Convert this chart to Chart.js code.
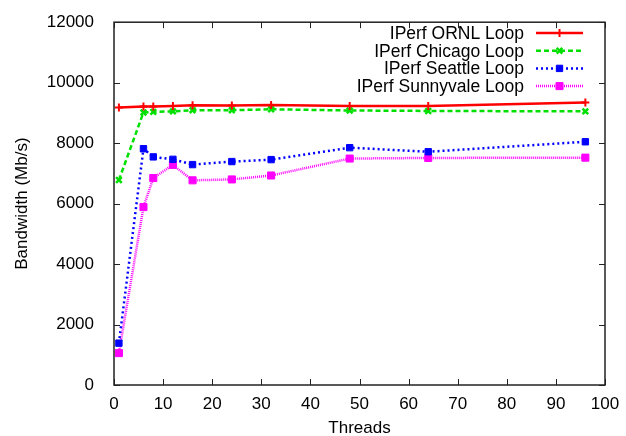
<!DOCTYPE html>
<html>
<head>
<meta charset="utf-8">
<script src="https://cdn.jsdelivr.net/npm/chart.js@4"></script>
<style>
  html, body { margin: 0; padding: 0; background: #fff; }
  canvas { display: block; }
</style>
</head>
<body>
<canvas id="bwChart" width="626" height="436"></canvas>
<script>
// ---------- Data ----------
const threads = [1, 6, 8, 12, 16, 24, 32, 48, 64, 96];
const ornl = [9180, 9210, 9210, 9230, 9250, 9245, 9260, 9230, 9230, 9340];
const chicago = [6780, 9015, 9035, 9050, 9090, 9090, 9120, 9080, 9065, 9050];
const seattle = [1385, 7815, 7545, 7465, 7290, 7390, 7455, 7850, 7715, 8045];
const sunnyvale = [1055, 5885, 6845, 7280, 6770, 6800, 6930, 7490, 7510, 7520];

const seriesNames = ["IPerf ORNL Loop", "IPerf Chicago Loop", "IPerf Seattle Loop", "IPerf Sunnyvale Loop"];
const xTicks = [0, 10, 20, 30, 40, 50, 60, 70, 80, 90, 100];
const yTicks = [0, 2000, 4000, 6000, 8000, 10000, 12000];

const FONT = "Liberation Sans, Arial, sans-serif";

function pts(ys) {
  return threads.map((t, i) => ({ x: t, y: ys[i] }));
}

// gnuplot-like frame with inward ticks on all four sides
const framePlugin = {
  id: "frame",
  afterDraw(chart) {
    const { ctx, chartArea: a, scales } = chart;
    ctx.save();
    ctx.strokeStyle = "#222";
    ctx.lineWidth = 1.5;
    ctx.strokeRect(a.left, a.top, a.right - a.left, a.bottom - a.top);
    ctx.lineWidth = 1;
    const len = 6;
    ctx.beginPath();
    xTicks.forEach(v => {
      const px = Math.round(scales.x.getPixelForValue(v)) + 0.5;
      ctx.moveTo(px, a.bottom); ctx.lineTo(px, a.bottom - len);
      ctx.moveTo(px, a.top); ctx.lineTo(px, a.top + len);
    });
    yTicks.forEach(v => {
      const py = Math.round(scales.y.getPixelForValue(v)) + 0.5;
      ctx.moveTo(a.left, py); ctx.lineTo(a.left + len, py);
      ctx.moveTo(a.right, py); ctx.lineTo(a.right - len, py);
    });
    ctx.stroke();
    ctx.restore();
  }
};

// legend in the top right: text right-aligned, sample line to its right
const keyPlugin = {
  id: "key",
  afterDraw(chart) {
    const { ctx } = chart;
    const textRight = 524, x0 = 536, x1 = 583, top = 33, step = 17.7;
    ctx.save();
    ctx.font = "17.5px " + FONT;
    ctx.textAlign = "right";
    ctx.textBaseline = "middle";
    chart.data.datasets.forEach((ds, i) => {
      const y = top + i * step;
      ctx.fillStyle = "#000";
      ctx.fillText(ds.label, textRight, y + 1);
      ctx.strokeStyle = ds.borderColor;
      ctx.lineWidth = ds.borderWidth;
      ctx.setLineDash(ds.borderDash || []);
      ctx.beginPath();
      ctx.moveTo(x0, y); ctx.lineTo(x1, y);
      ctx.stroke();
      ctx.setLineDash([]);
      ctx.fillStyle = ds.pointBackgroundColor;
      ctx.strokeStyle = ds.pointBorderColor;
      ctx.lineWidth = ds.pointBorderWidth;
      Chart.helpers.drawPoint(ctx, {
        pointStyle: ds.pointStyle,
        radius: ds.pointRadius,
        borderWidth: ds.pointBorderWidth,
        rotation: 0
      }, (x0 + x1) / 2, y);
    });
    ctx.restore();
  }
};

new Chart(document.getElementById("bwChart"), {
  type: "scatter",
  data: {
    datasets: [
      {
        label: seriesNames[0],
        data: pts(ornl),
        showLine: true,
        borderColor: "#ff0000",
        borderWidth: 2.5,
        pointStyle: "cross",
        pointRadius: 4,
        pointBorderWidth: 2,
        pointBorderColor: "#ff0000",
        pointBackgroundColor: "#ff0000",
        order: 1
      },
      {
        label: seriesNames[1],
        data: pts(chicago),
        showLine: true,
        borderColor: "#00e000",
        borderWidth: 2.5,
        borderDash: [5, 3],
        pointStyle: "crossRot",
        pointRadius: 4,
        pointBorderWidth: 2.5,
        pointBorderColor: "#00e000",
        pointBackgroundColor: "#00e000",
        order: 2
      },
      {
        label: seriesNames[2],
        data: pts(seattle),
        showLine: true,
        borderColor: "#0000ff",
        borderWidth: 2.5,
        borderDash: [2, 3],
        pointStyle: "rect",
        pointRadius: 4.5,
        pointBorderWidth: 1,
        pointBorderColor: "#0000ff",
        pointBackgroundColor: "#0000ff",
        order: 3
      },
      {
        label: seriesNames[3],
        data: pts(sunnyvale),
        showLine: true,
        borderColor: "#ff00ff",
        borderWidth: 2.5,
        borderDash: [1, 1],
        pointStyle: "rect",
        pointRadius: 5,
        pointBorderWidth: 1,
        pointBorderColor: "#ff00ff",
        pointBackgroundColor: "#ff00ff",
        order: 4
      }
    ]
  },
  options: {
    responsive: false,
    animation: false,
    events: [],
    layout: { padding: { top: 18, right: 21, left: 0, bottom: 0 } },
    plugins: {
      legend: { display: false },
      tooltip: { enabled: false }
    },
    scales: {
      x: {
        type: "linear",
        min: 0,
        max: 100,
        afterBuildTicks: s => { s.ticks = xTicks.map(v => ({ value: v })); },
        afterFit: s => { s.height = 51; },
        grid: { display: false },
        border: { display: false },
        ticks: { color: "#000", font: { family: FONT, size: 17 }, padding: 1, maxRotation: 0,
                 callback: v => String(v) },
        title: { display: true, text: "Threads", color: "#000", font: { family: FONT, size: 17 }, padding: { top: 4, bottom: -3 } }
      },
      y: {
        type: "linear",
        min: 0,
        max: 12000,
        afterBuildTicks: s => { s.ticks = yTicks.map(v => ({ value: v })); },
        afterFit: s => { s.width = 114; },
        grid: { display: false },
        border: { display: false },
        ticks: { color: "#000", font: { family: FONT, size: 17 }, padding: 12,
                 callback: v => String(v) },
        title: { display: true, text: "Bandwidth (Mb/s)", color: "#000", font: { family: FONT, size: 17 }, padding: { top: 12, bottom: 0 } }
      }
    }
  },
  plugins: [framePlugin, keyPlugin]
});
</script>
</body>
</html>
